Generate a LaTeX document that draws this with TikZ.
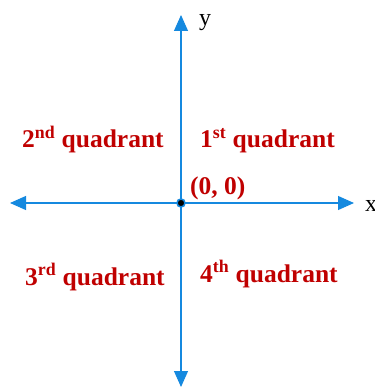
\documentclass[tikz,border=0pt]{standalone}
\usepackage{fontspec}
\setmainfont{Liberation Serif}
\usetikzlibrary{arrows.meta}
\definecolor{axisblue}{HTML}{1589DF}
\definecolor{quadred}{HTML}{C00000}
\begin{document}
\begin{tikzpicture}[x=1pt,y=-1pt,
  axis/.style={draw=axisblue, line width=1.1pt, -{Triangle[length=16pt,width=14pt]}},
  quad/.style={text=quadred, font=\bfseries\fontsize{25.5}{30}\selectfont, inner sep=0pt, anchor=base west},
  lab/.style={font=\fontsize{24}{28}\selectfont, inner sep=0pt, anchor=base west}]
\useasboundingbox (0,0) rectangle (374,387);
\coordinate (O) at (181,203);
\coordinate (T) at (181,15);
\coordinate (B) at (181,387);
\coordinate (L) at (10,203);
\coordinate (R) at (354,203);
\draw[axis] (O) -- (T);
\draw[axis] (O) -- (B);
\draw[axis] (O) -- (L);
\draw[axis] (O) -- (R);
\node[lab] (ylab) at (199,26) {y};
\node[lab] (xlab) at (365,211) {x};
\node[quad] (q2) at (22,148) {2\textsuperscript{nd} quadrant};
\node[quad] (q1) at (200,148) {1\textsuperscript{st} quadrant};
\node[quad] (q3) at (25,285) {3\textsuperscript{rd} quadrant};
\node[quad] (q4) at (200,282) {4\textsuperscript{th} quadrant};
\node[quad] (orig) at (190,194) {(0, 0)};
\filldraw[draw=axisblue, fill=black, line width=1.6pt] (O) circle (4);
\end{tikzpicture}
\end{document}
